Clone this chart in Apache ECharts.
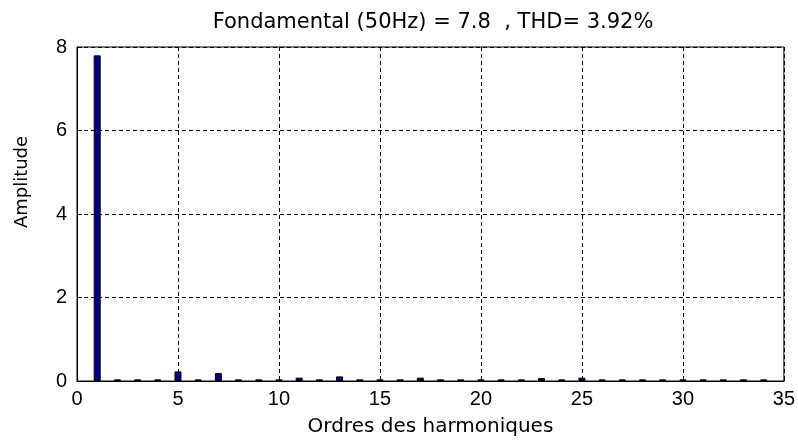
<!DOCTYPE html>
<html>
<head>
<meta charset="utf-8">
<script src="https://cdn.jsdelivr.net/npm/echarts@6/dist/echarts.min.js"></script>
<style>
  html, body { margin: 0; padding: 0; background: #fff; }
  #chart { width: 798px; height: 442px; }
</style>
</head>
<body>
<div id="chart"></div>
<script>
// harmonic orders and amplitudes
const orders = [1, 2, 3, 4, 5, 6, 7, 8, 9, 10, 11, 12, 13, 14, 15, 16, 17,
  18, 19, 20, 21, 22, 23, 24, 25, 26, 27, 28, 29, 30, 31, 32, 33, 34]
const amplitudes = [7.8, 0.04, 0.04, 0.04, 0.23, 0.04, 0.19, 0.04, 0.04, 0.04, 0.08, 0.04, 0.11, 0.04, 0.04, 0.04, 0.08,
  0.04, 0.04, 0.04, 0.04, 0.04, 0.07, 0.04, 0.08, 0.04, 0.04, 0.04, 0.04, 0.04, 0.04, 0.04, 0.04, 0.04]
const titleText = 'Fondamental (50Hz) = 7.8  , THD= 3.92%'
const yName = 'Amplitude'

const wideFont = 'DejaVu Sans, sans-serif'
const numFont = 'Liberation Sans, Arial, sans-serif'
const dashed = { color: '#000', type: [4, 3], width: 1 }

const chart = echarts.init(document.getElementById('chart'))
chart.setOption({
  animation: false,
  backgroundColor: '#fff',
  title: {
    text: titleText,
    left: 428,
    textAlign: 'center',
    top: 7,
    textStyle: { fontFamily: wideFont, fontWeight: 'normal', fontSize: 21, color: '#000' }
  },
  // y label sits a bit above the axis middle in the original
  graphic: [{
    type: 'text',
    x: 22,
    y: 182,
    rotation: Math.PI / 2,
    style: {
      text: yName,
      fontFamily: wideFont,
      fontSize: 18,
      fill: '#000',
      align: 'center',
      verticalAlign: 'middle'
    }
  }],
  grid: { left: 77, right: 14, top: 47, bottom: 59, show: true, borderColor: '#000', borderWidth: 1 },
  xAxis: {
    type: 'value',
    min: 0,
    max: 35,
    interval: 5,
    name: 'Ordres des harmoniques',
    nameLocation: 'middle',
    nameGap: 36,
    nameTextStyle: { fontFamily: wideFont, fontSize: 20, color: '#000' },
    axisLine: { show: true, lineStyle: { color: '#000' } },
    axisTick: { show: true, inside: true, length: 5, lineStyle: { color: '#000' } },
    axisLabel: { fontFamily: numFont, fontSize: 20, color: '#000', margin: 8 },
    splitLine: { show: true, lineStyle: dashed }
  },
  yAxis: {
    type: 'value',
    min: 0,
    max: 8,
    interval: 2,
    axisLine: { show: true, lineStyle: { color: '#000' } },
    axisTick: { show: true, inside: true, length: 5, lineStyle: { color: '#000' } },
    axisLabel: { fontFamily: numFont, fontSize: 20, color: '#000', margin: 10 },
    splitLine: { show: true, lineStyle: dashed }
  },
  series: [{
    type: 'bar',
    barWidth: 7,
    data: orders.map((o, i) => [o, amplitudes[i]]),
    itemStyle: { color: '#000080', borderColor: '#000', borderWidth: 1 }
  }]
})
</script>
</body>
</html>
